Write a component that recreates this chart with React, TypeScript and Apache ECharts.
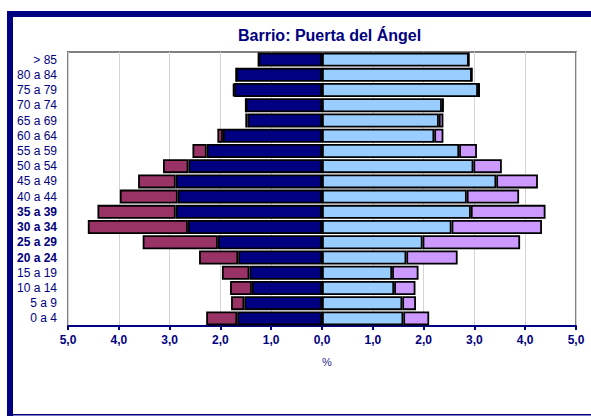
import React, { useEffect, useRef } from "react";
import * as echarts from "echarts";

const categories = ["> 85", "80 a 84", "75 a 79", "70 a 74", "65 a 69", "60 a 64", "55 a 59", "50 a 54", "45 a 49", "40 a 44", "35 a 39", "30 a 34", "25 a 29", "20 a 24", "15 a 19", "10 a 14", "5 a 9", "0 a 4"];
const boldCategories = ["35 a 39", "30 a 34", "25 a 29", "20 a 24"];
const maleNational = [1.25, 1.69, 1.73, 1.5, 1.47, 1.95, 2.27, 2.63, 2.88, 2.84, 2.88, 2.64, 2.05, 1.65, 1.43, 1.38, 1.53, 1.67];
const maleForeign = [0, 0, 0.02, 0, 0.04, 0.11, 0.28, 0.5, 0.74, 1.14, 1.54, 1.97, 1.48, 0.77, 0.54, 0.43, 0.26, 0.61];
const femaleNational = [2.89, 2.95, 3.07, 2.36, 2.3, 2.21, 2.7, 2.98, 3.43, 2.85, 2.93, 2.55, 1.98, 1.66, 1.38, 1.42, 1.58, 1.6];
const femaleForeign = [0, 0, 0.04, 0.04, 0.09, 0.18, 0.35, 0.56, 0.82, 1.03, 1.47, 1.78, 1.92, 1.01, 0.52, 0.42, 0.27, 0.51];

const NAVY = "#000080";
const FONT = "'Liberation Sans', Arial, sans-serif";

export default function App() {
  const ref = useRef<HTMLDivElement>(null);
  useEffect(() => {
    if (!ref.current) return;
    const chart = echarts.init(ref.current, null, { renderer: "svg" });
    const barStyle = (color: string) => ({ color, borderColor: "#000", borderWidth: 1.8 });
    const common = { type: "bar", stack: "all", barCategoryGap: "8%", animation: false };
    chart.setOption({
      animation: false,
      backgroundColor: "#fff",
      title: {
        text: "Barrio: Puerta del Ángel",
        left: 233,
        top: 22,
        textStyle: { color: NAVY, fontSize: 16, fontWeight: "bold", fontFamily: FONT },
      },
      grid: { left: 68, right: 15, top: 52, bottom: 90, show: true, borderColor: "#808080", borderWidth: 2, backgroundColor: "transparent" },
      xAxis: {
        type: "value",
        min: -5,
        max: 5,
        interval: 1,
        axisLine: { show: true, lineStyle: { color: NAVY, width: 2 } },
        axisTick: { show: true, length: 4, lineStyle: { color: NAVY, width: 2 } },
        axisLabel: {
          color: NAVY,
          fontSize: 12,
          fontWeight: "bold",
          fontFamily: FONT,
          margin: 8,
          formatter: (v: number) => Math.abs(v).toFixed(1).replace(".", ","),
        },
        splitLine: { show: true, lineStyle: { color: "#d4d4d4", width: 1 } },
      },
      yAxis: {
        type: "category",
        data: categories,
        inverse: true,
        axisLine: { show: false, onZero: false },
        axisTick: { show: false },
        axisLabel: {
          interval: 0,
          margin: 11,
          color: NAVY,
          fontSize: 12,
          fontFamily: FONT,
          formatter: (v: string) => (boldCategories.includes(v) ? `{b|${v}}` : v),
          rich: { b: { fontWeight: "bold", color: NAVY, fontSize: 12, fontFamily: FONT } },
        },
      },
      graphic: [
        { type: "rect", shape: { x: 7, y: 11, width: 6, height: 405 }, style: { fill: NAVY }, silent: true },
        { type: "rect", shape: { x: 7, y: 11, width: 584, height: 6 }, style: { fill: NAVY }, silent: true },
        { type: "rect", shape: { x: 7, y: 414, width: 584, height: 1.5 }, style: { fill: NAVY }, silent: true },
        {
          type: "text",
          x: 327,
          y: 362,
          style: { text: "%", fill: "#2a2a8a", font: `11px ${FONT}`, textAlign: "center", textVerticalAlign: "middle" },
          silent: true,
        },
      ],
      series: [
        { ...common, name: "Hombres españoles", data: maleNational.map((v) => -v), itemStyle: barStyle("#000080") },
        { ...common, name: "Hombres extranjeros", data: maleForeign.map((v) => -v), itemStyle: barStyle("#993366") },
        { ...common, name: "Mujeres españolas", data: femaleNational, itemStyle: barStyle("#99CCFF") },
        { ...common, name: "Mujeres extranjeras", data: femaleForeign, itemStyle: barStyle("#CC99FF") },
      ],
    });
    return () => chart.dispose();
  }, []);
  return <div ref={ref} style={{ position: "fixed", left: 0, top: 0, width: 591, height: 416 }} />;
}
